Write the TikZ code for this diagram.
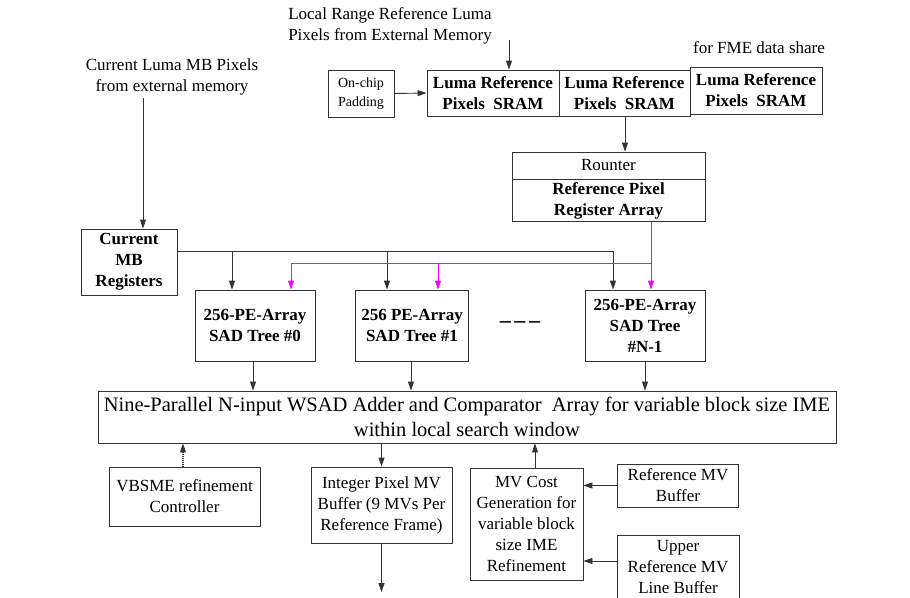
\documentclass[tikz,border=0pt]{standalone}
\usepackage{fontspec}
\setmainfont{Liberation Serif}
\usetikzlibrary{arrows.meta,calc}
\definecolor{lc}{HTML}{333333}
\definecolor{mg}{HTML}{FF00FF}
\begin{document}
\begin{tikzpicture}[x=1pt,y=-1pt,
  txt/.style={font=\fontsize{17}{21}\selectfont, align=center, inner sep=0pt},
  box/.style={draw=lc, line width=0.9pt, font=\fontsize{17}{21}\selectfont, align=center, inner sep=1pt},
  bbox/.style={box, font=\fontsize{17}{21}\selectfont\bfseries},
  ln/.style={draw=lc, line width=0.9pt},
  arr/.style={ln, -{Triangle[length=9pt,width=6pt]}},
  marr/.style={draw=mg, line width=0.9pt, -{Triangle[length=9pt,width=6pt]}},
]
\useasboundingbox[fill=white] (0,0) rectangle (910,597);

% top texts
\node[txt] (lrtext) at (390,26) {Local Range Reference Luma\\Pixels from External Memory};
\node[txt] (fme) at (759,48) {for FME data share};
\node[txt] (curtext) at (172,77) {Current Luma MB Pixels\\from external memory};

% SRAM row
\node[box, minimum width=66pt, minimum height=47pt, font=\fontsize{14}{19}\selectfont] (pad) at (361,93.5) {On-chip\\Padding};
\node[bbox, minimum width=132pt, minimum height=46pt] (s1) at (493,93) {Luma Reference\\Pixels\ \ SRAM};
\node[bbox, minimum width=131pt, minimum height=46pt] (s2) at (624.5,93) {Luma Reference\\Pixels\ \ SRAM};
\node[bbox, minimum width=132pt, minimum height=47pt] (s3) at (756,90.5) {Luma Reference\\Pixels\ \ SRAM};

\coordinate (lrin) at (509,40);
\draw[arr] (lrin) -- (lrin |- s1.north);
\draw[arr] (pad.east) -- (s1.west);

% Router
\node[box, minimum width=193pt, minimum height=27pt] (rt) at (608.5,165.5) {Rounter};
\node[bbox, minimum width=193pt, minimum height=42pt, anchor=north] (rpr) at (rt.south) {Reference Pixel\\Register Array};
\draw[arr] (s2.south -| 625,0) -- (rt.north -| 625,0);

% Current MB
\node[bbox, minimum width=96pt, minimum height=66pt] (cmb) at (129,262) {Current\\MB\\Registers};
\coordinate (curin) at (143,98);
\draw[arr] (curin) -- (cmb.north -| curin);

% SAD trees
\node[bbox, minimum width=120pt, minimum height=71pt] (sad0) at (255,325.5) {256-PE-Array\\SAD Tree \#0};
\node[bbox, minimum width=113pt, minimum height=71pt] (sad1) at (412,325.5) {256 PE-Array\\SAD Tree \#1};
\node[bbox, minimum width=120pt, minimum height=71pt] (sadn) at (645,325.5) {256-PE-Array\\SAD Tree\\\#N-1};
\node[txt, font=\fontsize{22}{22}\selectfont\bfseries] (dots) at (520,325) {–\,–\,–};

% black bus
\coordinate (b0) at (232,251);
\coordinate (b1) at (387,251);
\coordinate (b2) at (613,251);
\draw[ln] (cmb.east |- b0) -- (b2);
\draw[arr] (b0) -- (sad0.north -| b0);
\draw[arr] (b1) -- (sad1.north -| b1);
\draw[arr] (b2) -- (sadn.north -| b2);

% magenta bus
\coordinate (m0) at (291,263);
\coordinate (m1) at (438,263);
\coordinate (m2) at (651,263);
\draw[draw=mg, line width=0.9pt] (rpr.south -| m2) -- (m2) -- (m0);
\draw[marr] (m0) -- (sad0.north -| m0);
\draw[marr] (m1) -- (sad1.north -| m1);
\draw[marr] (m2) -- (sadn.north -| m2);

% WSAD
\node[box, minimum width=738pt, minimum height=52pt, font=\fontsize{20.5}{25}\selectfont] (wsad) at (467,417) {Nine-Parallel N-input WSAD Adder and Comparator\ \ Array for variable block size IME\\within local search window};
\draw[arr] (sad0.south -| 253,0) -- (wsad.north -| 253,0);
\draw[arr] (sad1.south -| 411,0) -- (wsad.north -| 411,0);
\draw[arr] (sadn.south -| 645,0) -- (wsad.north -| 645,0);

% bottom row
\node[box, minimum width=151pt, minimum height=59pt] (vb) at (184.5,496.5) {VBSME refinement\\Controller};
\node[box, minimum width=141pt, minimum height=76pt] (ipm) at (381.5,505) {Integer Pixel MV\\Buffer (9 MVs Per\\Reference Frame)};
\node[box, minimum width=113pt, minimum height=112pt] (mvc) at (526.5,524) {MV Cost\\Generation for\\variable block\\size IME\\Refinement};
\node[box, minimum width=121pt, minimum height=43pt] (rmv) at (678,485.5) {Reference MV\\Buffer};
\node[box, minimum width=122pt, minimum height=64pt] (umv) at (678,567) {Upper\\Reference MV\\Line Buffer};

\draw[ln, densely dotted, line width=1.2pt, -{Triangle[length=9pt,width=6pt]}] (vb.north -| 183,0) -- (wsad.south -| 183,0);
\draw[arr] (wsad.south -| ipm.north) -- (ipm.north);
\coordinate (ipmout) at (381.5,592);
\draw[arr] (ipm.south) -- (ipmout);
\draw[arr] (mvc.north -| 535,0) -- (wsad.south -| 535,0);
\draw[arr] (rmv.west) -- (mvc.east |- rmv.west);
\draw[arr] (umv.west |- 0,561) -- (mvc.east |- 0,561);
\end{tikzpicture}
\end{document}
